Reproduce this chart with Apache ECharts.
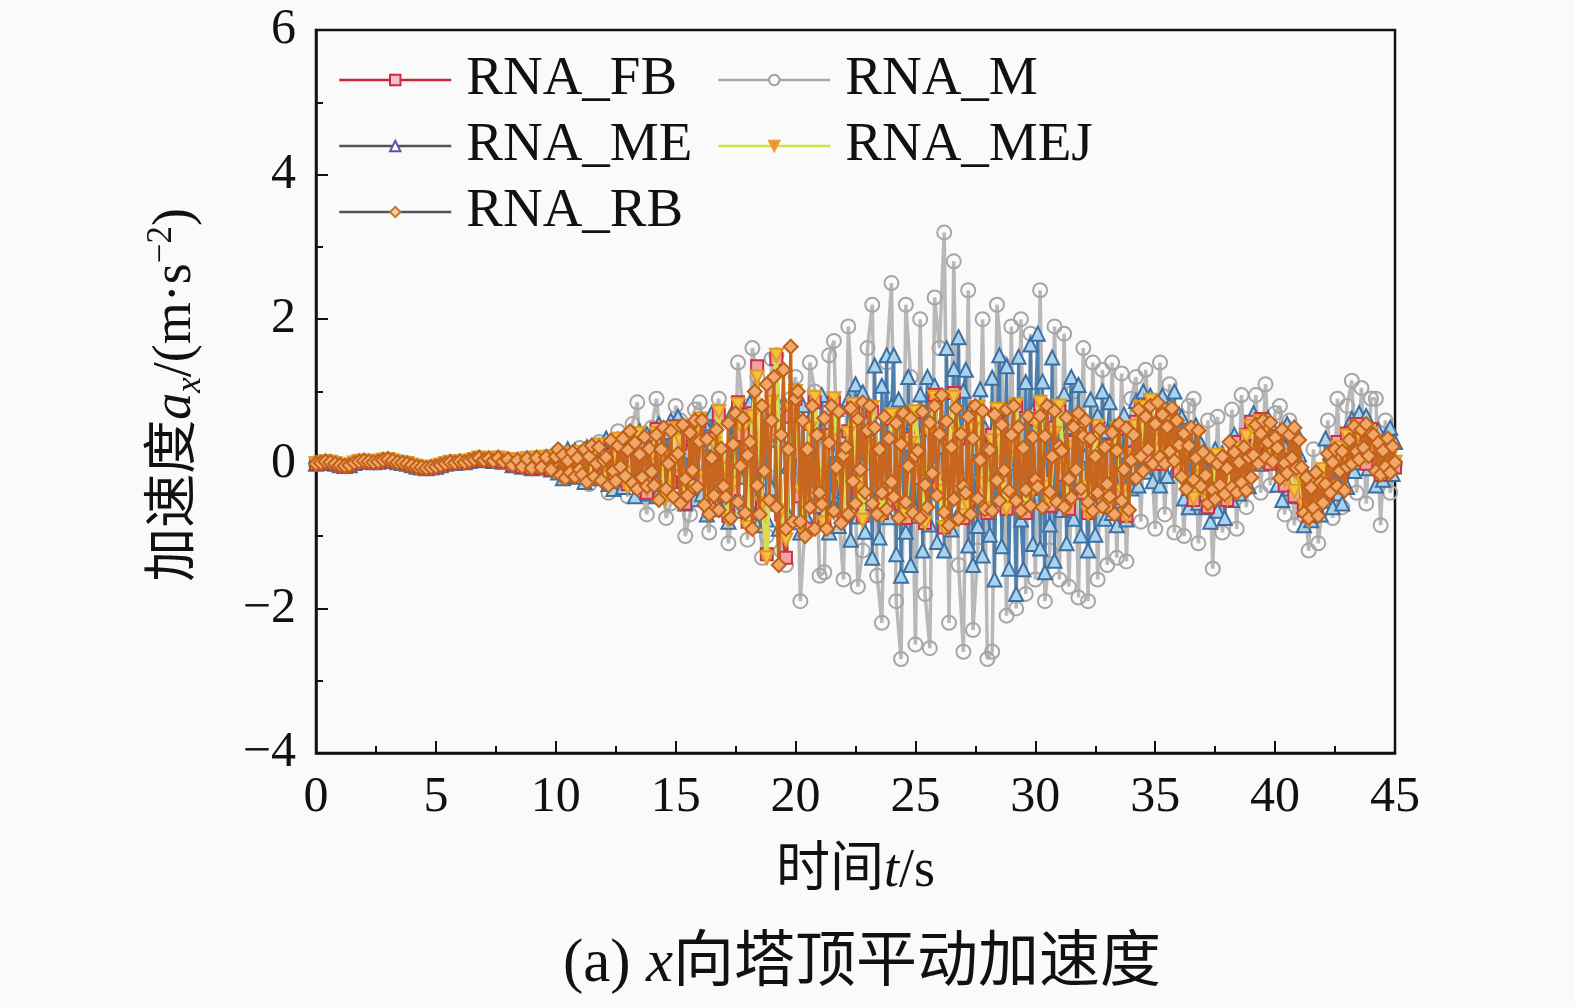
<!DOCTYPE html>
<html><head><meta charset="utf-8">
<script src="https://cdn.jsdelivr.net/npm/echarts@6/dist/echarts.min.js"></script>
<style>html,body{margin:0;padding:0;background:#fafafa}#c{width:1575px;height:1007px}</style>
</head><body><div id="c"></div>
<script>
// sampling steps of the time series (s)
const dtEarly = 0.2;   // 0 – 10 s
const dtCoarse = 0.2;  // FB, M, MEJ after 10 s
const dtFine = 0.1;    // ME, RB after 10 s
// 0 – 10 s (all models practically coincide)
const early = [0.00, 0.01, 0.03, 0.02, 0.00, -0.02, -0.03, -0.02, 0.01, 0.03,
  0.04, 0.03, 0.02, 0.03, 0.05, 0.06, 0.04, 0.02, 0.01, 0.00,
  -0.02, -0.04, -0.05, -0.06, -0.05, -0.04, -0.02, 0.00, 0.02, 0.01,
  0.03, 0.02, 0.04, 0.06, 0.08, 0.05, 0.07, 0.04, 0.08, 0.03,
  0.06, -0.02, 0.05, -0.04, 0.07, -0.06, 0.08, -0.05, 0.09, -0.08, 0.10];
// 10.2 – 45 s (step 0.2 s), one group per second
const FB = [
  0.10,-0.08,-0.12,0.10,0.15, -0.12,-0.18,0.18,0.22,-0.08, -0.25,0.12,0.30,-0.18,-0.28, 0.28,0.38,-0.22,-0.40,0.18,
  0.48,0.02,-0.42,-0.25,0.52, 0.28,-0.55,-0.30,0.48,0.58, -0.25,-0.62,0.35,0.68,-0.15, -0.72,-0.35,0.85,0.40,-0.80,
  0.70,1.35,-0.60,-1.25,1.00, 1.45,-0.70,-1.30,0.65,0.90, -0.45,-0.90,0.55,0.85,-0.25, -0.78,0.40,0.85,-0.15,-0.72,
  0.45,0.78,-0.35,-0.72,0.25, 0.72,0.15,-0.68,-0.50,0.62, 0.58,-0.55,-0.75,0.35,0.72, -0.20,-0.82,0.50,0.95,-0.30,
  -0.88,0.25,0.98,0.35,-0.75, -0.50,0.55,0.72,-0.35,-0.68, 0.40,0.70,-0.25,-0.62,0.30, 0.80,0.10,-0.68,-0.35,0.62,
  0.82,-0.25,-0.58,0.50,0.72, -0.15,-0.62,0.30,0.58,-0.40, -0.68,0.15,0.52,-0.25,-0.58, 0.25,0.48,-0.45,-0.72,0.15,
  0.58,0.78,0.10,0.88,0.25, 0.00,0.62,0.72,0.15,-0.10, 0.20,-0.35,-0.50,0.00,-0.25, -0.60,-0.30,0.05,-0.20,-0.50,
  0.00,0.30,-0.15,0.40,0.58, 0.25,0.62,0.40,0.00,0.38, 0.05,-0.30,-0.10,-0.45,-0.25, -0.65,-0.72,-0.35,-0.50,-0.15,
  -0.40,0.10,0.30,-0.10,0.42, 0.10,0.55,0.28,0.00,0.48, 0.18,-0.15,0.22,0.00,-0.05];
const M = [
  0.15,-0.10,-0.18,0.12,0.22, -0.15,-0.28,0.20,0.30,-0.12, -0.40,0.20,0.45,-0.30,-0.45, 0.55,0.85,-0.40,-0.70,0.50,
  0.90,0.20,-0.75,-0.55,0.80, 0.60,-1.00,-0.70,0.75,0.85, -0.50,-0.95,0.65,0.90,-0.30, -1.10,-0.60,1.40,0.80,-1.05,
  1.60,1.20,-1.30,-1.00,1.45, 1.50,-1.20,-1.40,0.90,1.20, -1.90,-0.80,1.40,1.00,-1.55, -1.50,1.50,1.70,-0.70,-1.60,
  1.90,0.60,-1.70,-1.20,1.60, 2.20,-1.55,-2.20,1.40,2.50, -1.90,-2.70,2.20,1.20,-2.50, 2.00,-1.80,-2.55,2.30,1.60,
  3.20,-2.20,2.80,-1.40,-2.60, 2.40,-2.30,-1.20,2.00,-2.70, -2.60,2.20,1.40,-2.10,1.90, -2.00,2.00,-1.80,1.80,-1.60,
  2.40,-1.90,-1.20,1.90,-1.60, 1.80,-1.70,1.00,-1.85,1.60, -1.90,1.40,-1.60,1.30,-1.40, 1.40,-1.30,1.25,-1.35,0.90,
  1.20,-0.80,1.30,0.40,-0.90, 1.40,-0.70,1.10,-0.95,0.60, -1.00,0.80,0.90,-1.10,-0.30, 0.60,-1.45,0.65,-0.95,-0.40,
  0.75,-0.90,0.95,-0.60,0.30, 0.95,-0.40,1.10,-0.30,0.70, 0.80,-0.70,0.60,-0.85,-0.10, -0.30,-1.20,0.20,-1.10,-0.50,
  0.60,-0.75,0.90,-0.60,0.80, 1.15,-0.40,1.05,-0.55,0.90, 0.90,-0.85,0.60,-0.40,0.00];
const MEJ = [
  0.14,-0.06,-0.14,0.06,0.16, -0.08,-0.22,0.12,0.26,-0.02, -0.30,0.08,0.34,-0.12,-0.32, 0.22,0.42,-0.18,-0.36,0.12,
  0.42,0.08,-0.48,-0.18,0.48, 0.32,-0.48,-0.38,0.42,0.62, -0.18,-0.68,0.28,0.72,-0.08, -0.78,-0.28,0.82,0.48,-0.88,
  0.65,1.20,-0.55,-1.30,0.85, 1.50,-0.65,-1.05,0.75,1.00, -0.38,-1.00,0.48,0.92,-0.18, -0.82,0.32,0.90,-0.08,-0.72,
  0.42,0.82,-0.28,-0.78,0.22, 0.78,0.08,-0.72,-0.42,0.68, 0.52,-0.62,-0.70,0.28,0.72, -0.12,-0.82,0.42,0.92,-0.38,
  -0.88,0.18,0.92,0.42,-0.72, -0.58,0.48,0.78,-0.28,-0.62, 0.32,0.75,-0.18,-0.62,0.22, 0.82,0.02,-0.62,-0.42,0.58,
  0.85,-0.32,-0.52,0.42,0.80, -0.08,-0.58,0.22,0.58,-0.32, -0.68,0.08,0.52,-0.18,-0.58, 0.18,0.48,-0.38,-0.72,0.08,
  0.52,0.78,0.18,0.88,0.32, 0.08,0.58,0.72,0.22,-0.02, 0.12,-0.28,-0.48,0.08,-0.18, -0.52,-0.38,0.12,-0.12,-0.48,
  0.08,0.22,-0.08,0.38,0.52, 0.18,0.58,0.48,0.08,0.32, 0.12,-0.22,-0.02,-0.38,-0.18, -0.58,-0.78,-0.28,-0.58,-0.08,
  -0.32,0.08,0.22,-0.02,0.38, 0.18,0.48,0.32,0.08,0.42, 0.22,-0.08,0.28,0.08,0.02];
// 10.1 – 45 s (step 0.1 s), one row per second
const ME = [
  -0.12,0.16,-0.20,0.08,0.20,-0.14,0.00,0.18,-0.18,0.04,
  0.05,-0.25,0.23,-0.10,-0.20,0.18,-0.05,0.25,-0.15,0.13,
  0.35,-0.28,0.21,-0.35,0.07,-0.21,0.28,-0.32,0.14,-0.14,
  -0.27,0.36,-0.45,0.18,0.45,-0.32,0.00,0.41,-0.41,0.09,
  0.18,-0.45,0.55,-0.14,-0.35,0.44,-0.03,0.60,-0.24,0.34,
  0.65,-0.43,0.41,-0.55,0.17,-0.31,0.53,-0.49,0.29,-0.19,
  -0.42,0.56,-0.70,0.28,0.70,-0.49,0.00,0.63,-0.63,0.14,
  0.13,-0.80,0.67,-0.34,-0.65,0.52,-0.18,0.75,-0.49,0.36,
  0.85,-0.68,0.51,-0.85,0.17,-0.51,0.68,-0.77,0.34,-0.34,
  -0.55,0.68,-0.90,0.33,0.85,-0.64,-0.03,0.76,-0.81,0.15,
  0.16,-0.95,0.81,-0.40,-0.77,0.62,-0.21,0.90,-0.58,0.44,
  0.95,-0.76,0.57,-0.95,0.19,-0.57,0.76,-0.86,0.38,-0.38,
  -0.62,0.89,-1.05,0.46,1.10,-0.73,0.03,0.99,-0.94,0.24,
  0.38,-1.30,1.36,-0.46,-1.02,1.08,-0.18,1.50,-0.74,0.80,
  1.50,-1.25,0.89,-1.55,0.28,-0.94,1.20,-1.40,0.58,-0.64,
  -0.72,0.96,-1.20,0.48,1.20,-0.84,0.00,1.08,-1.08,0.24,
  0.57,-1.20,1.60,-0.32,-0.91,1.31,-0.02,1.75,-0.61,1.01,
  1.30,-1.13,0.76,-1.40,0.22,-0.86,1.03,-1.27,0.49,-0.59,
  -0.98,1.19,-1.60,0.57,1.50,-1.14,-0.05,1.35,-1.45,0.26,
  0.27,-1.80,1.48,-0.77,-1.46,1.13,-0.42,1.65,-1.11,0.79,
  1.80,-1.17,1.14,-1.50,0.48,-0.84,1.47,-1.34,0.81,-0.51,
  -0.64,0.97,-1.10,0.51,1.20,-0.76,0.05,1.09,-0.99,0.28,
  0.12,-1.20,0.89,-0.54,-0.98,0.67,-0.32,1.00,-0.76,0.45,
  0.85,-0.68,0.51,-0.85,0.17,-0.51,0.68,-0.77,0.34,-0.34,
  -0.04,0.87,-0.30,0.61,1.00,-0.11,0.35,0.94,-0.24,0.48,
  0.48,-0.30,0.94,0.09,-0.17,0.81,0.22,1.00,-0.04,0.68,
  0.65,-0.48,0.40,-0.60,0.15,-0.35,0.53,-0.54,0.28,-0.23,
  -0.60,0.10,-0.80,-0.10,0.20,-0.65,-0.30,0.15,-0.75,-0.20,
  0.07,-0.50,0.40,-0.22,-0.41,0.31,-0.12,0.45,-0.31,0.21,
  0.70,0.07,0.56,0.00,0.42,0.14,0.63,0.04,0.49,0.21,
  -0.29,0.45,-0.50,0.24,0.55,-0.34,0.03,0.50,-0.45,0.13,
  -0.40,-0.85,-0.14,-0.63,-0.78,-0.21,-0.55,-0.10,-0.70,-0.29,
  0.35,-0.51,0.16,-0.60,-0.03,-0.41,0.26,-0.55,0.07,-0.32,
  0.06,0.62,-0.10,0.46,0.70,0.02,0.30,0.66,-0.06,0.38,
  0.18,-0.30,0.46,-0.06,-0.22,0.38,0.02,0.50,-0.14,0.30];
const RB = [
  0.20,-0.16,0.12,-0.20,0.04,-0.12,0.16,-0.18,0.08,-0.08,
  -0.15,0.20,-0.25,0.10,0.25,-0.18,0.00,0.23,-0.23,0.05,
  0.09,-0.30,0.32,-0.10,-0.24,0.25,-0.04,0.35,-0.17,0.19,
  0.45,-0.27,0.29,-0.35,0.13,-0.19,0.37,-0.31,0.21,-0.11,
  -0.30,0.40,-0.50,0.20,0.50,-0.35,0.00,0.45,-0.45,0.10,
  0.14,-0.55,0.54,-0.21,-0.44,0.43,-0.09,0.60,-0.32,0.31,
  0.60,-0.57,0.34,-0.70,0.08,-0.44,0.47,-0.64,0.21,-0.31,
  -0.46,0.56,-0.75,0.27,0.70,-0.53,-0.03,0.63,-0.68,0.12,
  0.30,-0.90,1.00,-0.30,-0.70,0.80,-0.10,1.10,-0.50,0.60,
  1.20,-0.60,-1.40,0.40,1.30,-0.90,0.20,1.62,-0.80,0.90,
  1.00,-0.80,0.60,-1.00,0.20,-0.60,0.80,-0.90,0.40,-0.40,
  -0.56,0.63,-0.90,0.29,0.80,-0.65,-0.05,0.72,-0.82,0.12,
  0.23,-0.70,0.77,-0.24,-0.55,0.62,-0.08,0.85,-0.39,0.46,
  0.80,-0.55,0.50,-0.70,0.20,-0.40,0.65,-0.63,0.35,-0.25,
  -0.46,0.56,-0.75,0.27,0.70,-0.53,-0.03,0.63,-0.68,0.12,
  0.18,-0.75,0.72,-0.29,-0.60,0.57,-0.13,0.80,-0.44,0.41,
  0.95,-0.67,0.59,-0.85,0.23,-0.49,0.77,-0.76,0.41,-0.31,
  -0.40,0.65,-0.70,0.35,0.80,-0.48,0.05,0.73,-0.63,0.20,
  0.19,-0.65,0.68,-0.23,-0.51,0.54,-0.09,0.75,-0.37,0.40,
  0.80,-0.51,0.51,-0.65,0.22,-0.36,0.66,-0.58,0.37,-0.22,
  -0.32,0.66,-0.60,0.38,0.80,-0.39,0.10,0.73,-0.53,0.24,
  0.18,-0.60,0.64,-0.21,-0.47,0.51,-0.08,0.70,-0.34,0.38,
  0.60,-0.53,0.35,-0.65,0.10,-0.40,0.48,-0.59,0.23,-0.28,
  -0.45,0.43,-0.70,0.18,0.55,-0.51,-0.08,0.49,-0.64,0.05,
  0.40,-0.20,0.75,0.10,-0.10,0.65,0.20,0.80,0.00,0.55,
  0.85,0.09,0.68,0.00,0.51,0.17,0.77,0.04,0.60,0.26,
  -0.18,0.42,-0.35,0.25,0.50,-0.22,0.08,0.46,-0.31,0.16,
  -0.16,-0.55,0.07,-0.36,-0.49,0.00,-0.29,0.10,-0.42,-0.06,
  0.30,-0.33,0.16,-0.40,0.02,-0.26,0.23,-0.37,0.09,-0.19,
  0.12,0.54,0.00,0.42,0.60,0.09,0.30,0.57,0.03,0.36,
  0.22,-0.20,0.47,0.01,-0.13,0.40,0.08,0.50,-0.06,0.33,
  -0.05,-0.68,-0.19,-0.75,-0.33,-0.61,-0.12,-0.72,-0.26,-0.54,
  -0.28,0.14,-0.40,0.02,0.20,-0.31,-0.10,0.17,-0.37,-0.04,
  0.33,0.00,0.52,0.17,0.06,0.47,0.22,0.55,0.11,0.41,
  0.40,-0.10,0.29,-0.15,0.18,-0.04,0.35,-0.12,0.24,0.02];
const xTicks = [0, 5, 10, 15, 20, 25, 30, 35, 40, 45];
const yTicks = [-4, -2, 0, 2, 4, 6];

const serif = "'Liberation Serif','Times New Roman','Noto Sans CJK SC',serif";
const build = (late, step) => early.map((v, i) => [+(i * dtEarly).toFixed(2), v])
  .concat(late.map((v, i) => [+(10 + (i + 1) * step).toFixed(2), v]));

const chart = echarts.init(document.getElementById('c'), null, {renderer: 'canvas'});
function mk(name, data, step, lineColor, lw, sym, fill, border, rot, z, size) {
  return {
    name, type: 'line', data: build(data, step), z,
    symbol: sym, symbolSize: size, symbolRotate: rot || 0, showSymbol: true, showAllSymbol: true,
    lineStyle: {color: lineColor, width: lw},
    itemStyle: {color: fill, borderColor: border, borderWidth: 2},
    emphasis: {disabled: true}, animation: false
  };
}
const legendText = {fontFamily: serif, fontSize: 55, color: '#111', lineHeight: 56, padding: [0, 0, 0, 10]};
chart.setOption({
  backgroundColor: '#fafafa',
  animation: false,
  grid: {left: 316, right: 180, top: 30, bottom: 254, show: true, borderColor: '#111', borderWidth: 2.5, backgroundColor: 'transparent'},
  xAxis: {
    type: 'value', min: 0, max: 45, interval: 5,
    name: '{a|时间}{i|t}{a|/s}', nameLocation: 'middle', nameGap: 92,
    nameTextStyle: {rich: {a: {fontFamily: serif, fontSize: 54, color: '#111'}, i: {fontFamily: serif, fontSize: 54, fontStyle: 'italic', color: '#111'}}},
    axisLine: {onZero: false, lineStyle: {color: '#111', width: 2.5}},
    axisTick: {inside: true, length: 12, lineStyle: {color: '#111', width: 2}},
    minorTick: {show: true, splitNumber: 2, length: 7, lineStyle: {color: '#111', width: 2}},
    splitLine: {show: false},
    axisLabel: {fontFamily: serif, fontSize: 50, color: '#111', margin: 20,
      formatter: v => xTicks.includes(v) ? String(v) : ''}
  },
  yAxis: {
    type: 'value', min: -4, max: 6, interval: 2,
    axisLine: {onZero: false, lineStyle: {color: '#111', width: 2.5}},
    axisTick: {inside: true, length: 12, lineStyle: {color: '#111', width: 2}},
    minorTick: {show: true, splitNumber: 2, length: 7, lineStyle: {color: '#111', width: 2}},
    splitLine: {show: false},
    axisLabel: {fontFamily: serif, fontSize: 50, color: '#111', margin: 20,
      formatter: v => yTicks.includes(v) ? String(v).replace('-', '\u2212') : ''}
  },
  legend: [
    {orient: 'vertical', left: 333, top: 47, itemWidth: 112, itemHeight: 13, itemGap: 10, textStyle: legendText,
      data: [
        {name: 'RNA_FB', lineStyle: {color: '#c8283a', width: 2.5}, itemStyle: {color: '#f6c0c8', borderColor: '#d0283a', borderWidth: 2}},
        {name: 'RNA_ME', lineStyle: {color: '#555', width: 2.5}, itemStyle: {color: '#fff', borderColor: '#6050b0', borderWidth: 2}},
        {name: 'RNA_RB', lineStyle: {color: '#555', width: 2.5}, itemStyle: {color: '#f5d0a0', borderColor: '#c07830', borderWidth: 2}}
      ]},
    {orient: 'vertical', left: 712, top: 47, itemWidth: 112, itemHeight: 13, itemGap: 10, textStyle: legendText,
      data: [
        {name: 'RNA_M', lineStyle: {color: '#a8a8a8', width: 2.5}, itemStyle: {color: '#fafafa', borderColor: '#a0a0a0', borderWidth: 2}},
        {name: 'RNA_MEJ', lineStyle: {color: '#d4e040', width: 2.5}, itemStyle: {color: '#f09040', borderColor: '#e8a030', borderWidth: 2}}
      ]}
  ],
  graphic: [
    {type: 'text', x: 176, y: 395, rotation: Math.PI / 2, style: {
      text: '{a|加速度}{i|a}{sub|x}{a|/(m·s}{sup|\u22122}{a|)}',
      textAlign: 'center', textVerticalAlign: 'middle',
      rich: {
        a: {fontFamily: serif, fontSize: 54, fill: '#111', lineHeight: 64},
        i: {fontFamily: serif, fontSize: 54, fontStyle: 'italic', fill: '#111', lineHeight: 64},
        sub: {fontFamily: serif, fontSize: 35, fontStyle: 'italic', fill: '#111', lineHeight: 35, verticalAlign: 'bottom'},
        sup: {fontFamily: serif, fontSize: 35, fill: '#111', lineHeight: 35, verticalAlign: 'top'}
      }}},
    {type: 'text', x: 862, y: 965, style: {
      text: '{a|(a) }{i|x}{a|向塔顶平动加速度}',
      textAlign: 'center', textVerticalAlign: 'middle',
      rich: {
        a: {fontFamily: serif, fontSize: 61, fill: '#111'},
        i: {fontFamily: serif, fontSize: 61, fontStyle: 'italic', fill: '#111'}
      }}}
  ],
  series: [
    mk('RNA_M', M, dtCoarse, '#b8b8b8', 3.5, 'circle', 'rgba(255,255,255,0)', '#a6a6a6', 0, 1, 14),
    mk('RNA_ME', ME, dtFine, '#4a7fb0', 3, 'triangle', '#a8d4f0', '#3d6fa0', 0, 2, 14),
    mk('RNA_FB', FB, dtCoarse, '#d2353f', 4, 'rect', '#f3a0a8', '#d03040', 0, 3, 12),
    mk('RNA_MEJ', MEJ, dtCoarse, '#d8dc50', 4, 'triangle', '#f5c040', '#e09a20', 180, 4, 13),
    mk('RNA_RB', RB, dtFine, '#c8651e', 3, 'diamond', '#f0a868', '#c0601a', 0, 5, 14)
  ]
});
</script></body></html>
